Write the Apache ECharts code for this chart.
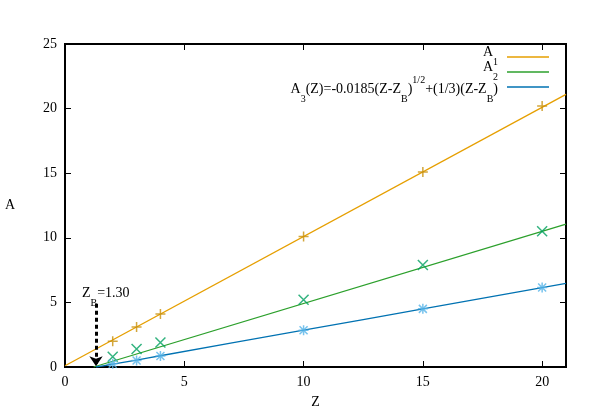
<!DOCTYPE html>
<html>
<head>
<meta charset="utf-8">
<script src="https://cdn.jsdelivr.net/npm/echarts@6/dist/echarts.min.js"></script>
<style>body{margin:0}#main{width:593px;height:415px}</style>
</head>
<body>
<div id="main"></div>
<script>
// measured points
var zPts = [2, 3, 4, 10, 15, 20];
var a1Pts = [2.0, 3.1, 4.1, 10.1, 15.1, 20.2];
var a2Pts = [0.8, 1.4, 1.9, 5.2, 7.9, 10.5];
var a3Pts = [0.25, 0.5, 0.85, 2.85, 4.5, 6.15];
// fitted lines
var a1Line = [[0, 0.1], [21, 21.1]];
var a2Line = [[1.2, 0], [21, 11.05]];
var a3Line = [[1.3, 0], [1.6, 0.09], [2, 0.22], [3, 0.54], [4, 0.87], [10, 2.85], [15, 4.5], [21, 6.48]];
var zB = 1.3;

var font = 'Liberation Serif';
var pts = function (ys) { return zPts.map(function (z, i) { return [z, ys[i]]; }); };
var plus = 'path://M0,-5L0,5M-5,0L5,0';
var cross = 'path://M-5,-5L5,5M-5,5L5,-5';
var star = 'path://M0,-5L0,5M-5,0L5,0M-4,-4L4,4M-4,4L4,-4';

function lineSeries(data, color, extra) {
    var s = {type: 'line', data: data, showSymbol: false, symbol: 'none',
        lineStyle: {color: color, width: 1.3}, silent: true, z: 2};
    return Object.assign(s, extra || {});
}
function pointSeries(data, color, sym) {
    return {type: 'scatter', data: data, symbol: sym, symbolSize: 10,
        itemStyle: {color: 'none', borderColor: color, borderWidth: 1.5}, z: 3};
}

function axis(extra) {
    return Object.assign({
        type: 'value', min: 0, interval: 5,
        axisLine: {show: true, onZero: false, lineStyle: {color: '#000', width: 2}},
        axisTick: {show: true, inside: true, length: 6, lineStyle: {color: '#000', width: 1}},
        splitLine: {show: false},
        axisLabel: {fontFamily: font, fontSize: 14, color: '#000', showMaxLabel: false}
    }, extra);
}
var nameStyle = {fontFamily: font, fontSize: 14, color: '#000'};

var option = {
    animation: false,
    grid: {left: 65, right: 27, top: 44, bottom: 48, show: true, borderColor: '#000', borderWidth: 2},
    xAxis: [
        axis({max: 21, name: 'Z', nameLocation: 'middle', nameGap: 28, nameTextStyle: nameStyle}),
        axis({max: 21, position: 'top', axisLabel: {show: false}})
    ],
    yAxis: [
        axis({max: 25, name: 'A', nameLocation: 'middle', nameGap: 50, nameRotate: 0, nameTextStyle: nameStyle,
            axisLabel: {fontFamily: font, fontSize: 14, color: '#000'}}),
        axis({max: 25, position: 'right', axisLabel: {show: false}})
    ],
    series: [
        lineSeries(a1Line, '#e69f00'),
        lineSeries(a2Line, '#2ca02c'),
        lineSeries(a3Line, '#0072b2', {smooth: true, markLine: {
            silent: true, symbol: ['none', 'arrow'], symbolSize: 10,
            lineStyle: {color: '#000', type: [4, 3], width: 3},
            label: {show: false},
            data: [[{coord: [zB, 4.9]}, {coord: [zB, 0.05]}]]
        }}),
        pointSeries(pts(a1Pts), '#c8900a', plus),
        pointSeries(pts(a2Pts), '#00a060', cross),
        pointSeries(pts(a3Pts), '#56b4e9', star),
        // invisible series so the mirrored axes draw their ticks
        {type: 'scatter', xAxisIndex: 1, yAxisIndex: 1, data: [], silent: true}
    ],
    graphic: []
};

var rich = {
    n: {fontFamily: font, fontSize: 14, color: '#000', lineHeight: 18, verticalAlign: 'bottom'},
    sub: {fontFamily: font, fontSize: 10, color: '#000', lineHeight: 18, verticalAlign: 'bottom', padding: [0, 0, -8, 0]},
    sup: {fontFamily: font, fontSize: 10, color: '#000', lineHeight: 18, verticalAlign: 'top', padding: [-3, 0, 0, 0]}
};
var legend = [
    ['{n|A}{sub|1}', '#e69f00'],
    ['{n|A}{sub|2}', '#2ca02c'],
    ['{n|A}{sub|3}{n|(Z)=-0.0185(Z-Z}{sub|B}{n|)}{sup|1/2}{n|+(1/3)(Z-Z}{sub|B}{n|)}', '#0072b2']
];
legend.forEach(function (l, i) {
    var y = 57 + i * 15;
    option.graphic.push({type: 'text', right: 95, top: y - 12,
        style: {text: l[0], rich: rich, align: 'right'}});
    option.graphic.push({type: 'line', shape: {x1: 507, y1: y, x2: 549, y2: y},
        style: {stroke: l[1], lineWidth: 1.3}});
});
option.graphic.push({type: 'text', left: 82, top: 286,
    style: {text: '{n|Z}{sub|B}{n|=1.30}', rich: rich}});

var chart = echarts.init(document.getElementById('main'));
chart.setOption(option);
</script>
</body>
</html>
